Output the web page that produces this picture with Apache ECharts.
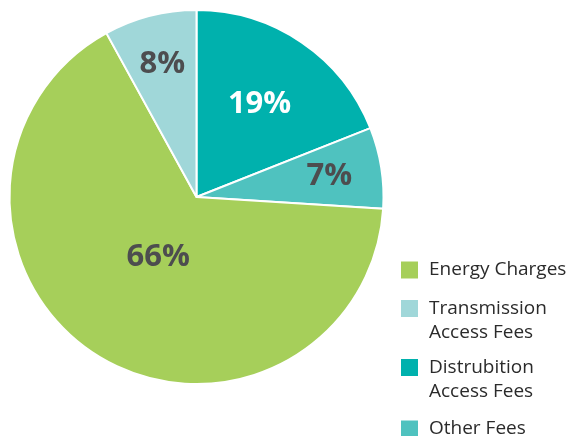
<!DOCTYPE html>
<html>
<head>
<meta charset="utf-8">
<script src="https://cdn.jsdelivr.net/npm/echarts@6/dist/echarts.min.js"></script>
<style>
  html, body { margin: 0; padding: 0; background: #fff; }
  #chart { width: 572px; height: 436px; }
</style>
</head>
<body>
<div id="chart"></div>
<script>
// Bill components, in drawing order (clockwise from 12 o'clock)
const categories = ['Distrubition\nAccess Fees', 'Other Fees', 'Energy Charges', 'Transmission\nAccess Fees'];
const shares = [19, 7, 66, 8];
const sliceColors = ['#00b1ad', '#4fc2bf', '#a6cf5a', '#a0d7d9'];
const labelColors = ['#ffffff', '#4d4d4f', '#4d4d4f', '#4d4d4f'];
// How far out each percentage sits, as a multiple of the default inner label radius
const labelReach = [1.163, 1.394, 0.74, 1.42];

// Legend order as listed
const legendOrder = ['Energy Charges', 'Transmission\nAccess Fees', 'Distrubition\nAccess Fees', 'Other Fees'];
const legendTops = [258, 296.5, 355.5, 417];

const CX = 196.5, CY = 197, R = 187;
const SWATCH = 17, LINE_H = 24;

// Square swatch aligned with the first text line; for two-line entries the
// symbol box is one line taller, with the square kept at its top.
const swatchOneLine = 'rect';
const swatchTwoLines = 'path://M0,0L0,0M0,0H' + SWATCH + 'V' + SWATCH + 'H0Z' +
  'M0,' + (SWATCH + LINE_H) + 'L0,' + (SWATCH + LINE_H);

const chart = echarts.init(document.getElementById('chart'), null, { renderer: 'canvas' });

const legends = legendOrder.map((name, i) => {
  const twoLines = name.indexOf('\n') >= 0;
  return {
    data: [name],
    orient: 'vertical',
    left: 401,
    top: legendTops[i],
    padding: 0,
    itemWidth: SWATCH,
    itemHeight: twoLines ? SWATCH + LINE_H : SWATCH,
    icon: twoLines ? swatchTwoLines : swatchOneLine,
    selectedMode: false,
    itemStyle: { borderWidth: 0 },
    textStyle: {
      fontFamily: 'Open Sans',
      fontSize: 19,
      lineHeight: LINE_H,
      color: '#2b2b2b',
      padding: [0, 0, 0, 6]
    }
  };
});

chart.setOption({
  animation: false,
  legend: legends,
  series: [{
    type: 'pie',
    center: [CX, CY],
    radius: [0, R],
    startAngle: 90,
    clockwise: true,
    avoidLabelOverlap: false,
    itemStyle: { borderColor: '#ffffff', borderWidth: 2 },
    label: {
      show: true,
      position: 'inner',
      formatter: '{c}%',
      fontFamily: 'Open Sans',
      fontWeight: 'bold',
      fontSize: 31
    },
    labelLine: { show: false },
    emphasis: { disabled: true },
    labelLayout: function (params) {
      const r = params.labelRect;
      const lx = r.x + r.width / 2;
      const ly = r.y + r.height / 2;
      const k = labelReach[params.dataIndex];
      return {
        x: CX + (lx - CX) * k,
        y: CY + (ly - CY) * k,
        align: 'center',
        verticalAlign: 'middle'
      };
    },
    data: categories.map((name, i) => ({
      name: name,
      value: shares[i],
      itemStyle: { color: sliceColors[i] },
      label: { color: labelColors[i] }
    }))
  }]
});
</script>
</body>
</html>
